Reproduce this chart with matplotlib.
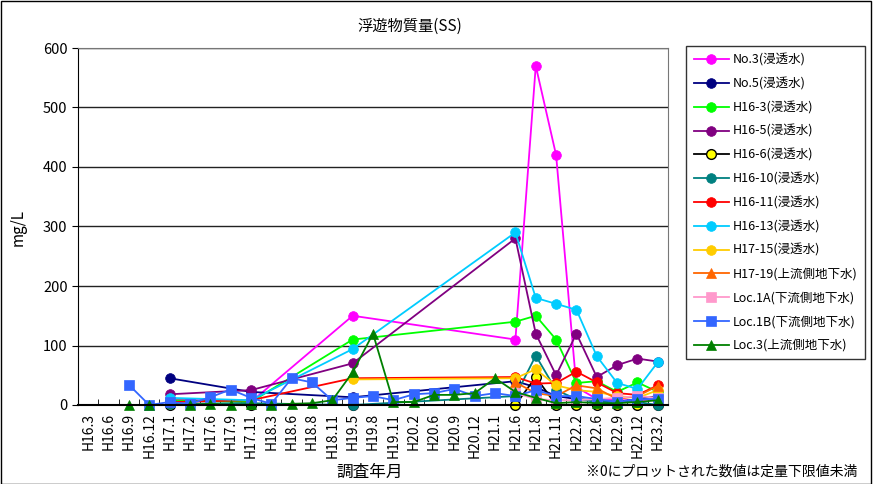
import numpy as np
import matplotlib.pyplot as plt
from matplotlib.patches import Rectangle

plt.rcParams['font.family'] = ['Noto Sans CJK JP', 'DejaVu Sans']

n = None

months = ['H16.3', 'H16.6', 'H16.9', 'H16.12', 'H17.1', 'H17.2', 'H17.6', 'H17.9',
          'H17.11', 'H18.3', 'H18.6', 'H18.8', 'H18.11', 'H19.5', 'H19.8', 'H19.11',
          'H20.2', 'H20.6', 'H20.9', 'H20.12', 'H21.1', 'H21.6', 'H21.8', 'H21.11',
          'H22.2', 'H22.6', 'H22.9', 'H22.12', 'H23.2']

no3 = [n, n, n, n, 10, n, n, n, 5, n, n, n, n, 150, n, n, n, n, n, n, n, 110, 570, 420, 30, 10, 8, 8, 10]
no5 = [n, n, n, n, 45, n, n, n, 22, n, n, n, n, 13, n, n, n, n, n, n, n, 40, 30, 15, 10, 8, 5, 10, 15]
h16_3 = [n, n, n, n, 8, n, n, n, 5, n, n, n, n, 110, n, n, n, n, n, n, n, 140, 150, 110, 37, 40, 22, 38, 22]
h16_5 = [n, n, n, n, 18, n, n, n, 25, n, n, n, n, 70, n, n, n, n, n, n, n, 280, 120, 50, 120, 47, 67, 78, 73]
h16_6 = [n, n, n, n, 0, n, n, n, 0, n, n, n, n, 0, n, n, n, n, n, n, n, 0, 47, 0, 0, 0, 0, 0, 0]
h16_10 = [n, n, n, n, 2, n, n, n, 3, n, n, n, n, 0, n, n, n, n, n, n, n, 15, 83, 25, 10, 5, 5, 5, 0]
h16_11 = [n, n, n, n, 5, n, n, n, 8, n, n, n, n, 45, n, n, n, n, n, n, n, 47, 36, 37, 56, 38, 20, 17, 33]
h16_13 = [n, n, n, n, 12, n, n, n, 8, n, n, n, n, 94, n, n, n, n, n, n, n, 290, 180, 170, 160, 82, 37, 27, 72]
h17_15 = [n] * 13 + [43, n, n, n, n, n, n, n, 45, 60, 33, 25, 22, 15, 12, 25]
h17_19 = [n] * 21 + [38, 20, 15, 33, 28, 10, 15, 32]
loc1a = [n] * 21 + [20, 10, 8, 8, 10, 12, 15, 12]
loc1b = [n, n, 34, 0, 5, 2, 13, 26, 12, 2, 45, 38, 8, 12, 15, 8, 18, 20, 27, 15, 20, 15, 25, 15, 15, 10, 5, 10, 10]
loc3 = [n, n, 0, 0, n, 0, 2, 0, 1, 0, 2, 3, 8, 55, 120, 5, 5, 17, 17, 20, 45, 22, 12, 3, 5, 3, 3, 5, 8]

# label, values, line colour, marker, marker face
series = [
    ('No.3(浸透水)', no3, '#ff00ff', 'o', '#ff00ff'),
    ('No.5(浸透水)', no5, '#000080', 'o', '#000080'),
    ('H16-3(浸透水)', h16_3, '#00ff00', 'o', '#00ff00'),
    ('H16-5(浸透水)', h16_5, '#800080', 'o', '#800080'),
    ('H16-6(浸透水)', h16_6, '#000000', 'o', '#ffff00'),
    ('H16-10(浸透水)', h16_10, '#008080', 'o', '#008080'),
    ('H16-11(浸透水)', h16_11, '#ff0000', 'o', '#ff0000'),
    ('H16-13(浸透水)', h16_13, '#00ccff', 'o', '#00ccff'),
    ('H17-15(浸透水)', h17_15, '#ffcc00', 'o', '#ffcc00'),
    ('H17-19(上流側地下水)', h17_19, '#ff6600', '^', '#ff6600'),
    ('Loc.1A(下流側地下水)', loc1a, '#ff99cc', 's', '#ff99cc'),
    ('Loc.1B(下流側地下水)', loc1b, '#3366ff', 's', '#3366ff'),
    ('Loc.3(上流側地下水)', loc3, '#008000', '^', '#008000'),
]

fig = plt.figure(figsize=(8.73, 4.84), dpi=100)
ax = fig.add_axes([78 / 873, 1 - 405 / 484, 590 / 873, 357 / 484])

x = np.arange(len(months))
handles = []
for label, vals, color, marker, face in series:
    y = np.array([np.nan if v is None else v for v in vals], dtype=float)
    ok = ~np.isnan(y)
    edge = '#000000' if face != color else color
    h, = ax.plot(x[ok], y[ok], color=color, lw=1.3, marker=marker, ms=7 if marker == 'o' else 7.5,
                 markerfacecolor=face, markeredgecolor=edge, markeredgewidth=1.0 if face != color else 0.5,
                 label=label, clip_on=False)
    handles.append(h)

ax.set_xlim(-0.5, len(months) - 0.5)
ax.set_ylim(0, 600)
ax.set_yticks(range(0, 601, 100))
ax.set_xticks(x)
ax.set_xticklabels(months, rotation=90, fontsize=10)
ax.set_xticks(np.arange(-0.5, len(months), 1), minor=True)
ax.tick_params(axis='x', which='major', length=0, pad=6)
ax.tick_params(axis='x', which='minor', direction='in', length=4, color='black')
ax.tick_params(axis='y', direction='out', length=4, labelsize=10.5)
ax.grid(axis='y', color='#222222', lw=1.0)
ax.set_axisbelow(True)
for side in ['top', 'right']:
    ax.spines[side].set_color('#777777')
ax.spines['left'].set_color('black')
ax.spines['bottom'].set_color('black')
ax.spines['bottom'].set_linewidth(1.5)

fig.text(410 / 873, 1 - 26 / 484, '浮遊物質量(SS)', ha='center', va='center', fontsize=11)
fig.text(18 / 873, 1 - 228 / 484, 'mg/L', ha='center', va='center', rotation=90, fontsize=11)
fig.text(370 / 873, 1 - 472 / 484, '調査年月', ha='center', va='center', fontsize=12)
fig.text(722 / 873, 1 - 472 / 484, '※0にプロットされた数値は定量下限値未満', ha='center', va='center', fontsize=10)

leg = fig.legend(handles=handles, loc='upper left', bbox_to_anchor=(686 / 873, 1 - 46 / 484),
                 fontsize=9, frameon=True, fancybox=False, shadow=False, labelspacing=0.86,
                 handlelength=2.8, borderpad=0.6, handletextpad=0.3, borderaxespad=0)
leg.get_frame().set_edgecolor('black')
leg.get_frame().set_linewidth(1.0)

# chart area border
fig.patches.append(Rectangle((0.001, 0.001), 0.997, 0.997, transform=fig.transFigure,
                             fill=False, edgecolor='black', lw=1.0))

fig.savefig('out.png', dpi=100)
